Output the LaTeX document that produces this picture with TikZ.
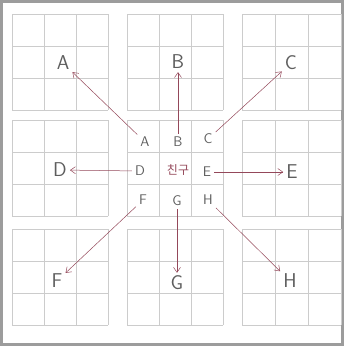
\documentclass[tikz,border=0pt]{standalone}
\usepackage{fontspec}
\newfontfamily\krfont{Noto Sans CJK KR}
\definecolor{gridgray}{HTML}{CCCCCC}
\definecolor{penred}{HTML}{94485A}
\definecolor{inkgray}{HTML}{5E5E5E}
\definecolor{framegray}{HTML}{9C9C9C}
\usetikzlibrary{arrows.meta}

\begin{document}
\begin{tikzpicture}[x=1pt, y=-1pt, >={Straight Barb[length=5pt, width=7pt]},
  cellgrid/.style={draw=gridgray, line width=0.5pt},
  big/.style={font=\sffamily\fontsize{20}{20}\selectfont, text=inkgray, inner sep=3pt},
  small/.style={font=\sffamily\fontsize{14}{14}\selectfont, text=inkgray, inner sep=3pt},
  link/.style={->, penred, line width=0.5pt}]
  \useasboundingbox (0,0) rectangle (344,346);
  \draw[framegray, line width=3pt] (1.5,1.5) rectangle (342,344.5);
  % nine 3x3 grids
  \foreach \gx/\s in {12/32, 127/32, 242/33}{
    \foreach \gy in {14, 120, 229}{
      \foreach \k in {0,1,2,3}{
        \draw[cellgrid] (\gx+\k*\s,\gy) -- ++(0,96);
        \draw[cellgrid] (\gx,\gy+\k*32) -- ++(3*\s,0);
      }}}
  % outer letters
  \node[big] (bigA) at (63,63) {A};
  \node[big] (bigB) at (178,62) {B};
  \node[big] (bigC) at (291,63) {C};
  \node[big] (bigD) at (60,170) {D};
  \node[big] (bigE) at (292,172) {E};
  \node[big] (bigF) at (57,281) {F};
  \node[big] (bigG) at (177,283) {G};
  \node[big] (bigH) at (290,281) {H};
  % centre grid
  \node[small] (smA) at (145,142) {A};
  \node[small] (smB) at (178,142) {B};
  \node[small] (smC) at (208,139) {C};
  \node[small] (smD) at (140,171) {D};
  \node[small, text=penred, font=\krfont\fontsize{12}{12}\selectfont] (friend) at (178,170) {친구};
  \node[small] (smE) at (207,172) {E};
  \node[small] (smF) at (143,200) {F};
  \node[small] (smG) at (177,201) {G};
  \node[small] (smH) at (208,200) {H};
  % arrows out
  \draw[link] (smA) -- (bigA);
  \draw[link] (smB) -- (bigB);
  \draw[link] (smC) -- (bigC);
  \draw[link] (smD) -- (bigD);
  \draw[link] (smE) -- (bigE);
  \draw[link] (smF) -- (bigF);
  \draw[link] (smG) -- (bigG);
  \draw[link] (smH) -- (bigH);
\end{tikzpicture}
\end{document}
